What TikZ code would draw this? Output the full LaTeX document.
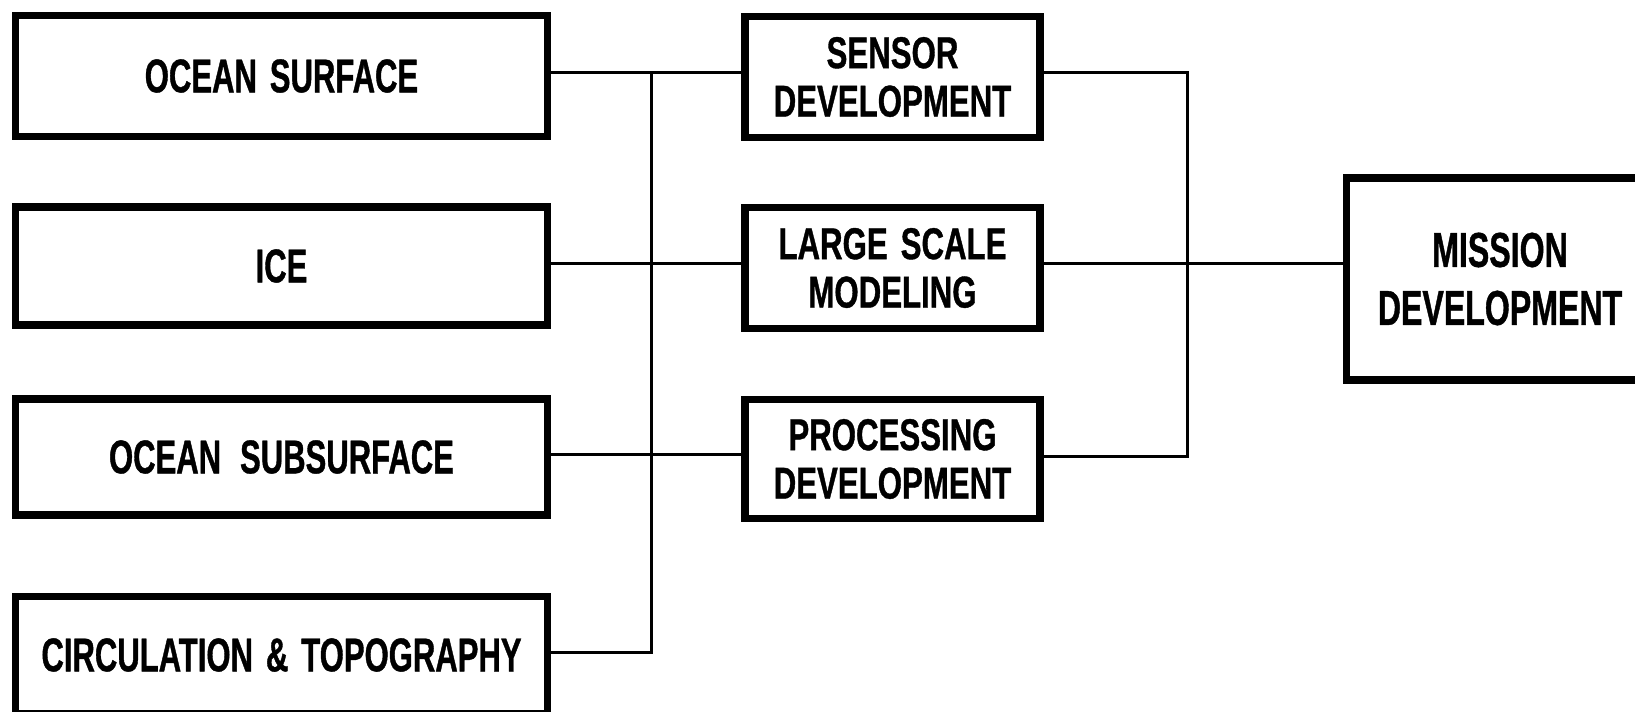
\documentclass[tikz,border=0pt]{standalone}
\usepackage{fontspec}
% condensed heavy sans faces for the three box columns
\newfontfamily\leftfont{Liberation Sans}[FakeStretch=0.655, WordSpace=1.6,
  BoldFeatures={FakeBold=0.8}]
\newfontfamily\midfont{Liberation Sans}[FakeStretch=0.70, WordSpace=1.5,
  BoldFeatures={FakeBold=0.8}]
\newfontfamily\misfont{Liberation Sans}[FakeStretch=0.655, WordSpace=1.5,
  BoldFeatures={FakeBold=0.8}]
\begin{document}
\begin{tikzpicture}[x=0.5pt, y=-0.5pt,
  blk/.style={draw=black, line width=3.8pt, rectangle, inner sep=0pt,
    align=center, fill=white},
  leftblk/.style={blk, minimum width=266pt,
    font=\leftfont\bfseries\fontsize{23.7}{26}\selectfont},
  midblk/.style={blk, minimum width=147.5pt, minimum height=60.5pt,
    font=\midfont\bfseries\fontsize{22.3}{24.2}\selectfont},
  misblk/.style={blk, minimum width=153.5pt, minimum height=101pt,
    font=\misfont\bfseries\fontsize{24.5}{29}\selectfont},
  link/.style={draw=black, line width=1.5pt, line cap=rect}]
\useasboundingbox (0,0) rectangle (1635,712);
\clip (0,0) rectangle (1635,712);

% input topics
\node[leftblk, minimum height=60.5pt] (os)   at (281.5,76)    {OCEAN SURFACE};
\node[leftblk, minimum height=59pt]   (ice)  at (281.5,266)   {ICE};
\node[leftblk, minimum height=58pt]   (sub)  at (281.5,457)   {OCEAN\hspace{3pt} SUBSURFACE};
\node[leftblk, minimum height=58.5pt] (circ) at (281.5,655)   {CIRCULATION \& TOPOGRAPHY};

% development areas
\node[midblk] (sen)  at (892.5,77)  {SENSOR\\DEVELOPMENT};
\node[midblk] (lsm)  at (892.5,268) {LARGE SCALE\\MODELING};
\node[midblk, minimum height=59.5pt] (proc) at (892.5,459) {PROCESSING\\DEVELOPMENT};

% overall goal
\node[misblk] (mis) at (1500,279) {MISSION\\DEVELOPMENT};

% bus levels
\coordinate (r1) at (651.7,72.3);
\coordinate (r2) at (651.7,263);
\coordinate (r3) at (651.7,454);
\coordinate (r4) at (651.7,652);
\coordinate (q1) at (1187,72.3);
\coordinate (q2) at (1187,263);
\coordinate (q3) at (1187,456);

% left bus and feeds
\draw[link] (os.east |- r1) -- (sen.west |- r1);
\draw[link] (ice.east |- r2) -- (lsm.west |- r2);
\draw[link] (sub.east |- r3) -- (proc.west |- r3);
\draw[link] (circ.east |- r4) -- (r4) -- (r1);

% right bus and output
\draw[link] (sen.east |- q1) -- (q1) -- (q3) -- (proc.east |- q3);
\draw[link] (lsm.east |- q2) -- (mis.west |- q2);
\end{tikzpicture}
\end{document}
